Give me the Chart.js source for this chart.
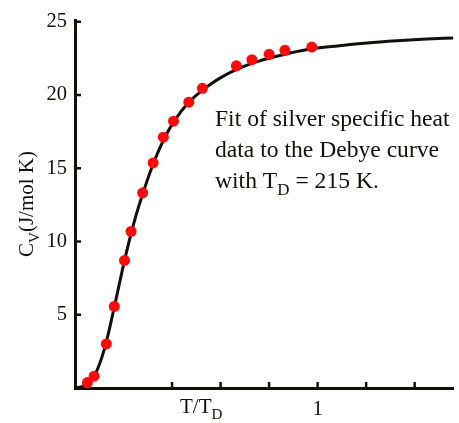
<!DOCTYPE html>
<html>
<head>
<meta charset="utf-8">
<script src="https://cdn.jsdelivr.net/npm/chart.js@4"></script>
<style>
  body { margin: 0; background: #fff; }
</style>
</head>
<body>
<canvas id="debyeChart" width="459" height="423"></canvas>
<script>
// silver specific heat measurements (T/TD, Cv in J/mol K)
const dataT  = [0.051, 0.079, 0.129, 0.162, 0.204, 0.231, 0.279, 0.322, 0.364, 0.406, 0.469, 0.525, 0.665, 0.729, 0.800, 0.865, 0.976];
const dataCv = [0.37, 0.81, 3.01, 5.57, 8.71, 10.69, 13.32, 15.36, 17.12, 18.21, 19.51, 20.46, 21.99, 22.41, 22.78, 23.05, 23.27];

// Debye fit curve
const curveT  = [0, 0.041, 0.082, 0.122, 0.163, 0.204, 0.245, 0.286, 0.327, 0.367, 0.408, 0.469, 0.531, 0.592, 0.673, 0.755, 0.857, 0.959, 1.082, 1.204, 1.327, 1.449, 1.559];
const curveCv = [0, 0.17, 0.9, 2.7, 5.6, 8.7, 11.4, 13.6, 15.5, 17.0, 18.2, 19.5, 20.4, 21.1, 21.8, 22.3, 22.75, 23.1, 23.35, 23.55, 23.7, 23.82, 23.9];

const xTicks = [0.4, 0.6, 0.8, 1, 1.2, 1.4];
const yTicks = [5, 10, 15, 20, 25];
const xLabeled = [1];

const ink = '#141008';
const serif = '"Liberation Serif", "Times New Roman", serif';

const toPoints = (xs, ys) => xs.map((x, i) => ({ x: x, y: ys[i] }));

// draws text with optional subscripts, left to right
function drawParts(ctx, parts, x, y, size) {
  parts.forEach(p => {
    const s = p.sub ? size * 0.72 : size;
    ctx.font = s + 'px ' + serif;
    ctx.fillText(p.t, x, y + (p.sub ? size * 0.28 : 0));
    x += ctx.measureText(p.t).width;
  });
}
function partsWidth(ctx, parts, size) {
  let w = 0;
  parts.forEach(p => {
    ctx.font = (p.sub ? size * 0.72 : size) + 'px ' + serif;
    w += ctx.measureText(p.t).width;
  });
  return w;
}

const overlay = {
  id: 'overlay',
  beforeDatasetsDraw(chart) {
    const ctx = chart.ctx;
    const xs = chart.scales.x, ys = chart.scales.y;
    const area = chart.chartArea;
    ctx.save();
    ctx.strokeStyle = ink;
    ctx.lineWidth = 2.5;
    xTicks.forEach(v => {
      const px = xs.getPixelForValue(v);
      ctx.beginPath();
      ctx.moveTo(px, area.bottom);
      ctx.lineTo(px, area.bottom - 6);
      ctx.stroke();
    });
    yTicks.forEach(v => {
      const py = ys.getPixelForValue(v);
      ctx.beginPath();
      ctx.moveTo(area.left, py);
      ctx.lineTo(area.left + 6, py);
      ctx.stroke();
    });
    ctx.restore();
  },
  afterDraw(chart) {
    const ctx = chart.ctx;
    const xs = chart.scales.x;
    ctx.save();
    ctx.fillStyle = ink;
    ctx.textBaseline = 'alphabetic';

    // y axis title
    const yTitle = [{ t: 'C' }, { t: 'V', sub: true }, { t: '(J/mol K)' }];
    const yw = partsWidth(ctx, yTitle, 21);
    ctx.save();
    ctx.translate(33, 204);
    ctx.rotate(-Math.PI / 2);
    drawParts(ctx, yTitle, -yw / 2, 0, 21);
    ctx.restore();

    // x axis title
    const xTitle = [{ t: 'T/T' }, { t: 'D', sub: true }];
    const xw = partsWidth(ctx, xTitle, 21);
    drawParts(ctx, xTitle, xs.getPixelForValue(0.52) - xw / 2, 413, 21);

    // annotation
    drawParts(ctx, [{ t: 'Fit of silver specific heat' }], 215, 126, 23.6);
    drawParts(ctx, [{ t: 'data to the Debye curve' }], 215, 157, 23.6);
    drawParts(ctx, [{ t: 'with T' }, { t: 'D', sub: true }, { t: ' = 215 K.' }], 215, 188, 23.6);
    ctx.restore();
  }
};

new Chart(document.getElementById('debyeChart'), {
  type: 'scatter',
  data: {
    datasets: [
      {
        label: 'Silver data',
        data: toPoints(dataT, dataCv),
        backgroundColor: '#ff0a0a',
        borderColor: '#ff0a0a',
        pointRadius: 5.5,
        pointBorderWidth: 0,
        order: 0
      },
      {
        label: 'Debye curve',
        type: 'line',
        data: toPoints(curveT, curveCv),
        borderColor: ink,
        borderWidth: 3,
        pointRadius: 0,
        fill: false,
        cubicInterpolationMode: 'monotone',
        order: 1
      }
    ]
  },
  options: {
    responsive: false,
    animation: false,
    devicePixelRatio: 1,
    layout: { padding: { top: 15, right: 2, left: 0, bottom: 0 } },
    plugins: {
      legend: { display: false },
      tooltip: { enabled: false }
    },
    scales: {
      x: {
        type: 'linear',
        min: 0,
        max: 1.56,
        afterFit: s => { s.height = 35; },
        afterBuildTicks: s => { s.ticks = xTicks.map(v => ({ value: v })); },
        grid: { display: false, drawTicks: false },
        border: { display: true, color: ink, width: 3 },
        ticks: {
          padding: 9,
          color: ink,
          font: { family: serif, size: 21 },
          maxRotation: 0,
          autoSkip: false,
          callback: v => xLabeled.includes(v) ? String(v) : ''
        }
      },
      y: {
        min: 0,
        max: 25.1,
        afterFit: s => { s.width = 75; },
        afterBuildTicks: s => { s.ticks = yTicks.map(v => ({ value: v })); },
        grid: { display: false, drawTicks: false },
        border: { display: true, color: ink, width: 3 },
        ticks: {
          padding: 8,
          color: ink,
          font: { family: serif, size: 20.5 },
          autoSkip: false
        }
      }
    }
  },
  plugins: [overlay]
});
</script>
</body>
</html>
